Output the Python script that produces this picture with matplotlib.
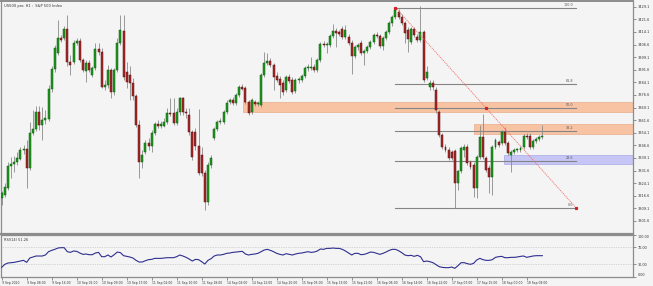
import matplotlib
matplotlib.use('Agg')
import matplotlib.pyplot as plt
from matplotlib.patches import Rectangle
import numpy as np

# ---------------- data ----------------
opens = [3315.2, 3317.0, 3321.2, 3334.3, 3335.5, 3336.7, 3338.5, 3343.8, 3344.4, 3333.1,
 3353.9, 3356.3, 3366.4, 3358.7, 3361.7, 3362.3, 3380.1, 3392.0, 3401.5, 3410.5,
 3410.5, 3415.8, 3396.2, 3396.2, 3407.5, 3408.7, 3397.4, 3390.8, 3395.6, 3388.5,
 3392.6, 3403.9, 3402.1, 3381.3, 3382.5, 3391.4, 3378.3, 3391.4, 3407.5, 3414.6,
 3390.2, 3388.5, 3383.7, 3376.0, 3358.7, 3336.7, 3342.6, 3348.0, 3346.2, 3353.9,
 3359.3, 3358.1, 3358.1, 3360.5, 3365.8, 3365.8, 3359.9, 3366.4, 3374.8, 3366.4,
 3364.7, 3354.5, 3354.5, 3346.2, 3340.9, 3330.1, 3312.9, 3334.9, 3351.0, 3356.3,
 3360.5, 3360.5, 3366.4, 3372.4, 3373.6, 3371.8, 3376.6, 3381.3, 3380.7, 3372.4,
 3366.4, 3372.4, 3371.2, 3370.6, 3388.5, 3395.6, 3396.8, 3394.4, 3387.9, 3386.1,
 3383.7, 3379.5, 3387.3, 3385.5, 3378.9, 3385.5, 3385.5, 3387.9, 3392.6, 3392.6,
 3393.2, 3391.4, 3397.4, 3406.9, 3406.3, 3406.3, 3411.7, 3414.6, 3414.0, 3415.8,
 3411.1, 3411.1, 3407.5, 3399.8, 3405.1, 3407.5, 3401.5, 3402.7, 3405.1, 3408.1,
 3412.3, 3411.7, 3405.7, 3410.5, 3414.0, 3419.4, 3423.0, 3426.0, 3423.0, 3419.4,
 3415.2, 3408.1, 3415.8, 3411.1, 3409.3, 3414.0, 3386.7, 3381.3, 3383.7, 3379.5,
 3366.4, 3352.7, 3345.6, 3343.8, 3342.6, 3343.2, 3324.2, 3331.3, 3343.8, 3345.6,
 3336.7, 3334.9, 3321.2, 3339.7, 3351.6, 3339.1, 3333.1, 3327.8, 3345.6, 3348.6,
 3348.0, 3354.5, 3348.0, 3340.9, 3342.6, 3343.8, 3343.8, 3345.6, 3352.1, 3352.1,
 3345.6, 3349.2, 3350.4, 3351.6]

highs = [3319.4, 3324.2, 3336.7, 3339.7, 3340.3, 3342.6, 3345.6, 3346.8, 3349.8, 3360.5,
 3367.6, 3370.0, 3370.0, 3369.4, 3367.6, 3382.5, 3393.8, 3406.3, 3421.2, 3412.3,
 3417.6, 3424.2, 3400.4, 3409.3, 3410.5, 3410.5, 3398.6, 3397.4, 3397.4, 3393.8,
 3407.5, 3407.5, 3404.5, 3385.5, 3394.4, 3392.6, 3392.6, 3410.5, 3424.2, 3424.2,
 3396.2, 3393.8, 3386.7, 3377.2, 3361.7, 3343.8, 3349.8, 3351.0, 3355.7, 3360.5,
 3361.7, 3361.1, 3362.9, 3368.8, 3374.8, 3374.8, 3368.8, 3375.4, 3375.4, 3368.8,
 3368.8, 3355.7, 3356.9, 3368.2, 3345.6, 3331.9, 3336.7, 3340.9, 3357.5, 3361.7,
 3362.9, 3367.6, 3373.6, 3374.8, 3375.4, 3377.7, 3382.5, 3383.1, 3381.9, 3373.6,
 3374.8, 3373.6, 3373.0, 3389.6, 3402.1, 3401.5, 3398.6, 3395.6, 3390.2, 3387.9,
 3385.5, 3388.5, 3389.1, 3387.3, 3386.7, 3387.3, 3389.1, 3393.8, 3395.0, 3399.2,
 3395.0, 3398.6, 3408.1, 3408.7, 3408.1, 3412.9, 3418.8, 3416.4, 3415.2, 3417.6,
 3418.2, 3412.9, 3409.3, 3406.3, 3407.5, 3409.3, 3403.9, 3406.3, 3409.3, 3413.5,
 3414.0, 3412.9, 3411.7, 3415.2, 3420.6, 3424.2, 3428.6, 3427.7, 3424.8, 3420.6,
 3417.0, 3417.0, 3417.0, 3412.9, 3429.5, 3415.2, 3393.8, 3385.5, 3385.5, 3381.3,
 3367.6, 3353.9, 3347.4, 3345.6, 3343.8, 3344.4, 3331.9, 3346.2, 3347.4, 3347.4,
 3337.9, 3336.7, 3340.9, 3358.7, 3365.2, 3340.3, 3334.9, 3346.8, 3351.0, 3349.8,
 3355.7, 3357.5, 3349.2, 3343.8, 3345.0, 3345.0, 3346.2, 3353.3, 3353.9, 3353.9,
 3350.4, 3351.6, 3352.7, 3358.7]

lows = [3311.1, 3315.8, 3320.0, 3327.2, 3330.7, 3334.9, 3337.9, 3341.4, 3321.2, 3331.9,
 3352.7, 3355.1, 3355.7, 3349.8, 3359.3, 3361.1, 3378.3, 3390.2, 3400.4, 3408.1,
 3409.3, 3393.8, 3388.5, 3395.0, 3406.3, 3396.2, 3390.2, 3384.3, 3390.2, 3387.3,
 3391.4, 3400.4, 3380.7, 3379.5, 3380.7, 3374.8, 3376.6, 3390.2, 3406.3, 3385.5,
 3380.7, 3373.6, 3373.6, 3357.5, 3327.2, 3333.1, 3341.4, 3343.8, 3342.6, 3352.7,
 3356.9, 3356.9, 3357.5, 3359.3, 3364.1, 3358.7, 3358.7, 3364.7, 3364.7, 3362.9,
 3352.7, 3337.9, 3343.8, 3329.0, 3328.4, 3308.1, 3311.1, 3333.1, 3349.8, 3355.1,
 3359.3, 3359.3, 3365.2, 3371.2, 3370.6, 3370.6, 3375.4, 3379.5, 3371.2, 3364.7,
 3365.2, 3370.0, 3370.0, 3369.4, 3387.3, 3394.4, 3393.2, 3379.5, 3384.3, 3374.8,
 3376.6, 3378.3, 3383.7, 3377.2, 3377.7, 3383.7, 3384.3, 3386.7, 3390.8, 3391.4,
 3390.2, 3390.2, 3396.2, 3405.1, 3401.5, 3405.1, 3410.5, 3405.1, 3411.7, 3409.9,
 3409.9, 3406.3, 3389.1, 3398.6, 3403.3, 3400.4, 3394.4, 3401.5, 3403.9, 3406.9,
 3410.5, 3404.5, 3403.3, 3409.3, 3412.9, 3417.6, 3421.8, 3421.8, 3418.2, 3407.5,
 3402.1, 3406.9, 3411.1, 3408.1, 3408.1, 3384.3, 3385.5, 3379.5, 3379.5, 3365.8,
 3351.6, 3344.4, 3342.6, 3337.9, 3337.9, 3309.3, 3320.0, 3330.1, 3339.7, 3334.9,
 3332.5, 3315.8, 3315.2, 3338.5, 3338.5, 3330.7, 3318.2, 3317.0, 3344.4, 3345.6,
 3346.8, 3346.8, 3340.9, 3330.7, 3341.4, 3342.6, 3342.6, 3344.4, 3350.4, 3344.4,
 3344.4, 3348.0, 3349.2, 3350.4]

closes = [3318.2, 3321.8, 3334.3, 3335.5, 3336.7, 3339.1, 3343.8, 3344.4, 3333.1, 3353.9,
 3356.3, 3366.4, 3358.7, 3361.7, 3362.9, 3380.1, 3392.0, 3404.5, 3410.5, 3409.3,
 3415.8, 3396.2, 3394.4, 3407.5, 3408.7, 3397.4, 3391.4, 3395.6, 3391.4, 3392.6,
 3403.9, 3402.1, 3381.3, 3382.5, 3391.4, 3378.3, 3391.4, 3407.5, 3415.2, 3387.3,
 3384.3, 3383.7, 3376.0, 3358.7, 3336.7, 3340.9, 3348.0, 3346.2, 3353.9, 3359.3,
 3358.1, 3359.3, 3360.5, 3365.8, 3365.2, 3359.9, 3366.4, 3374.8, 3366.4, 3365.8,
 3354.5, 3339.7, 3346.2, 3330.1, 3330.1, 3312.9, 3334.9, 3339.1, 3356.3, 3360.5,
 3361.1, 3366.4, 3371.8, 3373.6, 3371.8, 3376.6, 3381.3, 3380.1, 3372.4, 3365.8,
 3373.6, 3371.2, 3371.8, 3388.5, 3395.6, 3396.8, 3394.4, 3387.3, 3385.5, 3382.5,
 3378.3, 3387.3, 3384.9, 3378.3, 3385.5, 3385.5, 3387.9, 3392.6, 3393.2, 3393.2,
 3391.4, 3397.4, 3406.9, 3406.3, 3406.9, 3411.7, 3414.6, 3413.5, 3412.9, 3411.1,
 3415.2, 3407.5, 3399.8, 3405.1, 3406.3, 3401.5, 3402.7, 3405.1, 3408.1, 3412.3,
 3411.7, 3405.7, 3410.5, 3414.0, 3419.4, 3423.0, 3427.1, 3423.0, 3419.4, 3413.5,
 3409.9, 3415.8, 3412.3, 3409.3, 3414.0, 3385.5, 3390.2, 3383.7, 3381.3, 3367.6,
 3352.7, 3345.6, 3343.8, 3339.1, 3339.1, 3324.2, 3331.3, 3345.0, 3345.6, 3336.1,
 3333.7, 3321.2, 3339.7, 3351.6, 3339.7, 3331.9, 3327.8, 3345.6, 3349.8, 3346.8,
 3354.5, 3348.0, 3342.0, 3342.6, 3343.8, 3343.8, 3345.0, 3352.1, 3351.6, 3345.6,
 3349.2, 3350.4, 3351.6, 3351.6]

rsi = [22.9, 30.0, 33.1, 34.0, 34.7, 36.3, 37.8, 39.4, 34.7, 44.9,
 47.3, 49.6, 49.6, 49.6, 52.0, 59.8, 62.9, 65.3, 68.4, 69.2,
 69.2, 59.8, 58.2, 61.4, 60.6, 56.7, 53.5, 54.3, 52.7, 52.7,
 56.7, 58.2, 48.0, 48.0, 52.0, 47.3, 52.7, 59.0, 57.5, 50.4,
 48.8, 47.3, 44.9, 39.4, 35.5, 35.5, 38.6, 41.0, 41.8, 44.1,
 44.1, 44.1, 44.9, 45.7, 45.7, 45.7, 48.0, 52.0, 49.6, 46.5,
 42.5, 37.8, 41.8, 41.0, 36.3, 30.8, 39.4, 43.3, 49.6, 52.0,
 52.0, 53.5, 55.9, 56.7, 58.2, 59.0, 59.8, 60.6, 54.3, 52.0,
 53.5, 54.3, 55.9, 59.8, 63.7, 65.3, 62.9, 59.8, 55.9, 53.5,
 52.0, 55.1, 53.5, 52.0, 54.3, 55.9, 56.7, 58.2, 59.8, 58.2,
 59.0, 61.4, 66.1, 65.3, 67.6, 67.6, 68.4, 67.6, 67.6, 65.3,
 61.4, 56.7, 52.0, 55.9, 55.9, 52.7, 53.5, 55.9, 59.0, 58.2,
 55.9, 53.5, 55.9, 59.0, 62.9, 65.3, 65.3, 62.1, 57.5, 52.0,
 50.4, 51.2, 48.8, 51.2, 48.0, 36.3, 37.8, 36.3, 33.9, 29.2,
 24.5, 22.9, 22.2, 22.2, 23.7, 20.6, 26.9, 33.9, 33.9, 31.6,
 30.0, 32.4, 40.2, 44.1, 41.0, 39.4, 39.4, 41.0, 46.5, 48.0,
 48.8, 45.7, 45.7, 46.5, 46.5, 47.3, 48.8, 49.6, 46.5, 48.0,
 49.6, 50.4, 50.4, 50.4]

time_labels = ["9 Sep 2020", "9 Sep 08:00", "9 Sep 16:00", "10 Sep 01:00", "10 Sep 09:00",
               "10 Sep 17:00", "11 Sep 02:00", "11 Sep 10:00", "11 Sep 18:00", "14 Sep 04:00",
               "14 Sep 12:00", "14 Sep 20:00", "15 Sep 05:00", "15 Sep 13:00", "15 Sep 21:00",
               "16 Sep 06:00", "16 Sep 14:00", "16 Sep 22:00", "17 Sep 07:00", "17 Sep 15:00",
               "18 Sep 00:00", "18 Sep 08:00"]
label_every = 8

price_ticks = [3429.1, 3421.6, 3414.1, 3406.6, 3399.1, 3391.6, 3384.1, 3376.6, 3369.1,
               3361.6, 3354.1, 3346.6, 3339.1, 3331.6, 3324.1, 3316.6, 3309.1, 3301.6]

# Fibonacci retracement anchors (bar index, price)
fib_start_bar, fib_end_bar = 126, 183.8
fib_high, fib_low = 3428.6, 3309.4
fib_levels = [0.0, 23.6, 38.2, 50.0, 61.8, 100.0]

# supply / demand zones: (start bar, low price, high price, kind)
zones = [(77.2, 3366.6, 3372.6, 'orange'),
         (151.1, 3353.2, 3359.1, 'orange'),
         (160.7, 3335.5, 3340.8, 'blue')]

title = "US500 pro, H1 :  S&P 500 Index"
rsi_label = "RSI(14) 51.26"

# ---------------- figure ----------------
W, H = 653, 286
BG = '#F4F4F4'
fig = plt.figure(figsize=(W / 100, H / 100), dpi=100)
fig.patch.set_facecolor(BG)


def box(x0, y0, x1, y1):
    return [x0 / W, 1 - y1 / H, (x1 - x0) / W, (y1 - y0) / H]


ax = fig.add_axes(box(1, 1, 633, 234))
axr = fig.add_axes(box(1, 234.6, 633, 277.1), sharex=ax)
for a in (ax, axr):
    a.set_facecolor(BG)
    for s in a.spines.values():
        s.set_color('#8C8C8C')
        s.set_linewidth(0.9)
ax.spines['bottom'].set_linewidth(1.6)
ax.spines['top'].set_linewidth(1.4)

n = len(closes)
x = np.arange(n)
o = np.array(opens); c = np.array(closes); h = np.array(highs); l = np.array(lows)
up = c >= o

ax.set_xlim(-0.21, 202.0)
ax.set_ylim(3293.8, 3432.5)

# zones (background)
zone_col = {'orange': ('#F8C3A3', '#E9AD8C'), 'blue': ('#C5C5F6', '#A9A9E6')}
for xs, lo, hi, kind in zones:
    fc, ec = zone_col[kind]
    ax.add_patch(Rectangle((xs, lo), 210 - xs, hi - lo, facecolor=fc,
                           edgecolor=ec, linewidth=0.5, zorder=1))

# fib levels
for lv in fib_levels:
    p = fib_low + (fib_high - fib_low) * lv / 100.0
    ax.plot([fib_start_bar, fib_end_bar], [p, p], color='#858585', lw=0.8, zorder=2)
    ax.text(fib_end_bar - 1.0, p + 0.6, f"{lv:.1f}", fontsize=2.4, color='#555555',
            ha='right', va='bottom', zorder=5)

# candles
ax.vlines(x, l, h, color='#8A8A8A', lw=0.6, zorder=3)
body_lo = np.minimum(o, c)
body_h = np.maximum(np.abs(c - o), 0.35)
ax.bar(x[up], body_h[up], bottom=body_lo[up], width=0.62, color='#1E9A1E',
       edgecolor='#0B5A0B', linewidth=0.35, zorder=4)
ax.bar(x[~up], body_h[~up], bottom=body_lo[~up], width=0.62, color='#A52A2A',
       edgecolor='#5E0C0C', linewidth=0.35, zorder=4)

# trend line from peak to fib end
ax.plot([fib_start_bar, fib_end_bar], [fib_high, fib_low], color='#F27070',
        lw=0.6, ls=(0, (1.5, 1)), zorder=6)
mid_bar = (fib_start_bar + fib_end_bar) / 2
mid_p = (fib_high + fib_low) / 2
ax.plot([fib_start_bar, mid_bar, fib_end_bar], [fib_high, mid_p, fib_low], 's',
        color='#D02020', ms=1.3, zorder=7)

# price axis
ax.yaxis.tick_right()
ax.set_yticks(price_ticks)
ax.set_yticklabels([f"{p:.1f}" for p in price_ticks])
ax.tick_params(axis='y', length=2.5, width=0.5, color='#666666', labelsize=2.5,
               labelcolor='#333333', pad=1)
ax.tick_params(axis='x', length=0, labelbottom=False)

# RSI panel
axr.set_ylim(0, 100)
axr.plot(x, rsi, color='#2E2E8E', lw=0.8, zorder=3)
for lvl in (70, 30):
    axr.axhline(lvl, color='#B8B8B8', lw=0.5, ls=(0, (1, 1.5)), zorder=1)
axr.yaxis.tick_right()
axr.set_yticks([100, 70, 30, 0], ["100.00", "70.00", "30.00", "0.00"])
axr.tick_params(axis='y', length=2.5, width=0.5, color='#666666', labelsize=2.4,
                labelcolor='#333333', pad=1)
for lbl in axr.get_yticklabels():
    if lbl.get_text() == "100.00":
        lbl.set_va('top')
    elif lbl.get_text() == "0.00":
        lbl.set_va('bottom')

tick_pos = [i * label_every for i in range(len(time_labels))]
axr.set_xticks(tick_pos, time_labels)
axr.tick_params(axis='x', length=2, width=0.5, color='#666666', labelsize=2.2,
                labelcolor='#333333', pad=0.8)
for lbl in axr.get_xticklabels():
    lbl.set_ha('left')
ax.tick_params(axis='x', length=0, labelbottom=False)

axr.text(0.005, 0.93, rsi_label, transform=axr.transAxes, fontsize=2.5,
         color='#333333', ha='left', va='top')
fig.text(4 / W, 1 - 6.5 / H, title, fontsize=2.6, color='#333333', ha='left', va='center')

fig.savefig('out.png', dpi=100, facecolor=BG)
